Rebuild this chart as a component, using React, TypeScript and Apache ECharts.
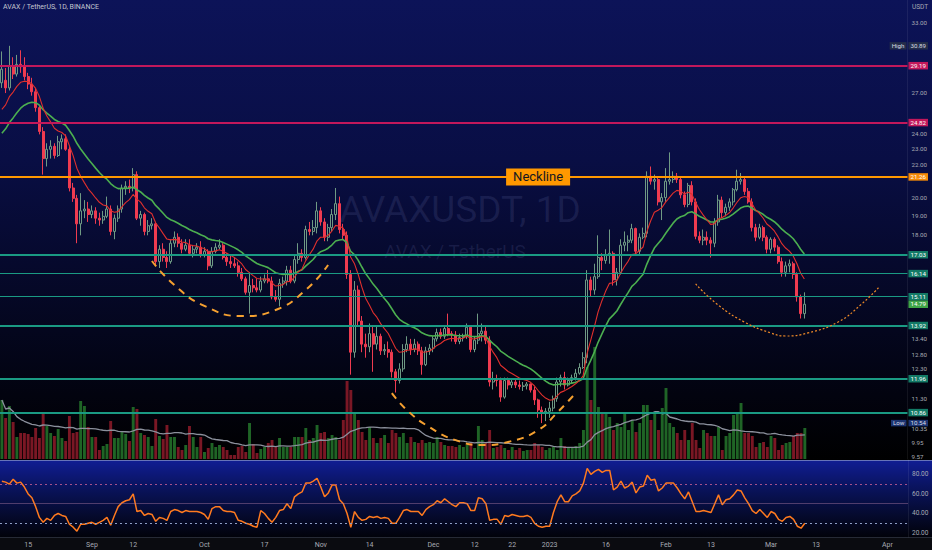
import React, { useEffect, useRef } from "react";
import * as echarts from "echarts";

// ---------------- DATA ----------------
const START_YEAR = 2022;
const START_MONTH = 7; // August (0-based)
const START_DAY = 8;
const AXIS_DAYS = 242; // Aug 8 2022 .. Apr 6 2023

// daily candles [open, high, low, close], Aug 8 2022 .. Mar 10 2023
const CANDLES: number[][] = [
  [27.8,30.4,27.4,28.9],[28.0,29.0,27.0,27.4],[27.4,30.89,27.2,29.2],[29.2,29.9,28.1,28.5],[28.5,30.1,28.3,29.3],
  [29.3,30.5,28.6,29.1],[29.1,29.9,28.0,28.3],[28.3,28.6,27.3,27.7],[27.7,28.2,26.8,27.1],[27.1,27.4,25.6,25.9],
  [25.9,26.1,24.0,24.2],[24.2,24.5,21.4,22.4],[22.4,23.4,21.9,23.0],[23.0,23.6,22.4,23.2],[23.2,23.4,22.4,22.6],
  [22.6,23.9,22.5,23.5],[23.5,24.0,23.0,23.7],[23.7,24.0,22.9,23.0],[23.0,23.2,20.4,20.6],[20.6,20.9,19.8,20.0],
  [20.0,20.2,17.6,18.6],[18.6,20.3,18.0,19.3],[19.3,19.9,18.9,19.4],[19.4,19.8,18.7,19.1],[19.1,19.6,18.9,19.3],
  [19.3,19.5,18.6,18.9],[18.9,19.2,18.5,18.8],[18.8,19.3,18.6,19.0],[19.0,20.1,18.9,19.4],[19.4,19.6,18.0,18.2],
  [18.2,19.1,17.8,18.9],[18.9,19.6,18.7,19.4],[19.4,20.8,19.2,20.6],[20.6,21.0,20.2,20.7],[20.7,21.1,20.3,20.6],
  [20.6,21.8,20.4,21.4],[21.4,21.6,18.8,18.9],[18.9,19.3,18.5,19.1],[19.1,19.2,18.0,18.2],[18.2,18.8,18.0,18.5],
  [18.5,18.9,18.3,18.6],[18.6,18.7,16.5,16.7],[16.7,17.5,16.4,17.3],[17.3,17.6,16.7,16.9],[16.9,17.2,16.4,16.7],
  [16.7,17.8,16.6,17.6],[17.6,18.2,17.4,17.9],[17.9,18.1,17.4,17.6],[17.6,17.8,17.1,17.3],[17.3,17.8,17.2,17.5],
  [17.5,17.8,17.0,17.1],[17.1,17.5,16.9,17.3],[17.3,17.6,17.1,17.4],[17.4,17.7,16.9,17.0],[17.0,17.4,16.9,17.2],
  [17.2,17.3,16.3,16.5],[16.5,17.4,16.4,17.2],[17.2,17.6,17.1,17.4],[17.4,17.8,17.3,17.5],[17.5,17.6,16.8,16.9],
  [16.9,17.1,16.5,16.7],[16.7,17.0,16.4,16.6],[16.6,16.9,16.4,16.5],[16.5,16.7,16.0,16.2],[16.2,16.4,15.8,15.9],
  [15.9,16.0,15.2,15.3],[15.3,16.2,14.4,15.6],[15.6,15.9,15.3,15.5],[15.5,15.9,15.3,15.4],[15.4,16.0,15.3,15.8],
  [15.8,16.1,15.7,15.9],[15.9,16.3,15.7,15.8],[15.8,16.0,15.0,15.1],[15.1,15.4,14.9,15.0],[15.0,15.9,14.7,15.7],
  [15.7,16.0,15.5,15.8],[15.8,16.5,15.6,16.3],[16.3,16.5,15.7,15.8],[15.8,17.0,15.7,16.8],[16.8,17.6,16.6,17.1],
  [17.1,17.3,16.7,16.9],[16.9,18.5,16.8,18.3],[18.3,18.7,18.0,18.2],[18.2,18.8,18.0,18.4],[18.4,19.8,18.1,19.3],
  [19.3,19.5,18.5,18.7],[18.7,18.9,17.7,17.9],[17.9,18.6,17.7,18.4],[18.4,19.4,18.2,19.1],[19.1,20.6,18.8,19.7],
  [19.7,20.1,18.1,18.3],[18.3,18.6,17.8,18.0],[18.0,18.2,15.9,16.1],[16.1,16.3,12.1,12.9],[12.9,15.8,12.7,15.4],
  [15.4,15.6,13.9,14.1],[14.1,14.3,12.9,13.2],[13.2,13.6,12.7,13.1],[13.1,14.0,12.9,13.6],[13.6,13.9,12.2,13.2],
  [13.2,13.9,13.0,13.5],[13.5,13.6,12.8,12.95],[12.95,13.2,12.8,13.0],[13.0,13.3,12.7,12.9],[12.9,13.0,12.0,12.2],
  [12.2,12.3,11.5,11.9],[11.9,12.5,11.8,12.3],[12.3,13.2,12.2,13.0],[13.0,13.5,12.9,13.2],[13.2,13.4,12.8,13.0],
  [13.0,13.4,12.9,13.2],[13.2,13.3,12.8,12.95],[12.95,13.1,12.1,12.45],[12.45,13.1,12.4,12.95],[12.95,13.2,12.8,13.05],
  [13.05,13.5,12.9,13.4],[13.4,13.8,13.3,13.65],[13.65,13.8,13.4,13.5],[13.5,13.9,13.4,13.8],[13.8,14.4,13.5,13.6],
  [13.6,13.7,13.3,13.55],[13.55,13.7,13.2,13.3],[13.3,13.6,13.2,13.45],[13.45,13.6,13.3,13.5],[13.5,14.0,13.4,13.85],
  [13.85,13.9,12.9,13.0],[13.0,13.5,12.9,13.35],[13.35,14.4,13.2,13.6],[13.6,14.0,13.3,13.7],[13.7,13.9,13.2,13.35],
  [13.35,13.5,11.7,11.85],[11.85,12.2,11.6,11.95],[11.95,12.1,11.7,11.9],[11.9,12.0,11.2,11.35],[11.35,12.0,11.3,11.9],
  [11.9,12.0,11.6,11.75],[11.75,11.95,11.65,11.85],[11.85,11.95,11.65,11.75],[11.75,11.9,11.6,11.7],[11.7,11.85,11.55,11.72],
  [11.72,11.85,11.6,11.78],[11.78,11.8,11.5,11.58],[11.58,11.7,11.1,11.26],[11.26,11.3,10.7,10.94],[10.94,11.05,10.54,10.85],
  [10.85,11.0,10.6,10.9],[10.9,11.2,10.7,11.0],[11.0,11.4,10.9,11.3],[11.3,12.0,11.2,11.85],[11.85,12.1,11.7,12.0],
  [12.0,12.2,11.6,11.75],[11.75,12.0,11.7,11.9],[11.9,12.1,11.8,12.0],[12.0,12.3,11.9,12.15],[12.15,12.5,12.1,12.35],
  [12.35,12.9,12.3,12.7],[12.7,16.3,12.5,15.85],[15.85,16.0,15.1,15.4],[15.4,16.6,15.2,16.0],[16.0,18.0,15.9,16.9],
  [16.9,17.1,16.3,16.75],[16.75,17.3,16.6,17.0],[17.0,18.3,16.6,17.1],[17.1,17.2,15.6,15.85],[15.85,16.4,15.6,16.2],
  [16.2,17.8,16.1,17.5],[17.5,18.2,17.2,17.65],[17.65,18.0,17.2,17.75],[17.75,18.6,17.6,18.35],[18.35,18.4,17.0,17.2],
  [17.2,18.1,17.0,17.9],[17.9,18.4,17.8,18.1],[18.1,21.6,17.9,21.3],[21.3,21.9,20.8,21.0],[21.0,21.4,20.5,21.1],
  [21.1,21.2,19.6,19.8],[19.8,20.3,18.8,20.05],[20.05,21.8,19.8,21.0],[21.0,22.8,20.8,21.1],[21.1,21.6,20.9,21.3],
  [21.3,21.5,20.9,21.1],[21.1,21.3,20.0,20.2],[20.2,20.4,19.5,19.65],[19.65,20.9,19.5,20.75],[20.75,21.0,19.6,19.8],
  [19.8,20.0,17.8,17.95],[17.95,18.2,17.6,17.75],[17.75,18.3,17.5,17.9],[17.9,18.2,17.5,17.75],[17.75,17.9,16.9,17.6],
  [17.6,18.9,17.4,18.7],[18.7,20.2,18.5,19.9],[19.9,20.1,18.9,19.2],[19.2,19.7,19.0,19.5],[19.5,20.0,19.3,19.8],
  [19.8,20.6,19.6,20.5],[20.5,21.7,20.4,21.0],[21.0,21.5,20.8,21.1],[21.1,21.3,20.2,20.4],[20.4,20.6,19.7,19.8],
  [19.8,20.0,18.2,18.4],[18.4,18.6,17.7,17.9],[17.9,18.6,17.8,18.4],[18.4,18.5,17.7,17.9],[17.9,18.0,17.1,17.3],
  [17.3,17.9,17.1,17.8],[17.8,17.9,17.2,17.4],[17.4,17.5,16.6,16.7],[16.7,16.9,16.0,16.2],[16.2,16.7,16.0,16.5],
  [16.5,16.8,16.2,16.6],[16.6,16.7,15.9,16.1],[16.1,16.2,14.9,15.1],[15.1,15.2,14.2,14.4],[14.4,15.3,14.2,14.79],
];

// daily volume (relative units)
const VOLUME: number[] = [
  59,41,53,37,22,26,26,25,22,31, 21,45,33,26,23,30,21,18,43,26,
  27,58,53,32,22,22,9,13,15,38, 21,21,28,25,18,52,50,26,24,22,
  13,40,23,20,34,22,22,12,9,14, 33,22,12,22,7,11,16,12,14,12,
  9,4,4,12,13,7,36,15,6,10, 12,16,19,12,21,12,12,12,22,22,
  22,31,19,21,34,26,27,21,24,22, 19,39,78,69,47,39,27,19,32,21,
  16,21,24,16,29,26,22,26,16,22, 17,16,19,16,17,16,22,17,14,13,
  13,12,14,12,14,16,11,33,19,16, 29,11,12,14,11,9,12,9,11,8,
  9,9,16,14,12,9,11,12,9,21, 13,12,12,13,16,29,92,59,112,52,
  46,46,42,29,36,32,46,29,39,27, 36,54,54,39,46,29,51,71,36,32,
  26,19,29,19,36,19,11,29,26,23, 23,32,9,23,26,44,46,56,26,26,
  23,12,16,17,12,23,21,9,14,16, 17,23,26,26,31,
];

// RSI(14)
const RSI: number[] = [
  73,72,70,75,71,72,67,60,56,47, 36,31,35,33,38,40,38,37,29,26,
  22,29,29,30,31,29,31,33,36,28, 38,47,51,53,54,60,42,43,38,40,
  39,32,36,35,33,42,44,43,41,43, 42,42,42,41,39,34,45,47,47,43,
  42,42,41,33,32,30,29,27,26,43, 40,35,31,36,43,44,50,45,57,60,
  62,71,71,73,76,67,57,61,69,69, 54,50,40,26,42,36,33,34,37,36,
  37,35,36,35,30,30,36,43,44,42, 42,42,38,44,47,49,53,51,55,52,
  49,47,51,51,50,43,43,56,55,50, 33,34,34,29,38,37,39,38,37,37,
  38,36,30,27,26,27,27,41,52,59, 52,52,58,60,63,71,86,80,83,85,
  82,84,84,64,67,73,66,68,72,61, 67,68,79,74,75,63,66,71,71,71,
  66,60,55,62,52,42,42,43,42,41, 50,59,49,54,55,59,64,63,56,50,
  43,40,44,40,36,42,40,34,32,36, 37,34,27,25,30,
];

// indicator settings and their values at the left edge of the chart
const EMA_FAST_LEN = 9;
const EMA_SLOW_LEN = 21;
const EMA_FAST_START = 25.0;
const EMA_SLOW_START = 23.6;
const VOL_MA_LEN = 20;

// visible ranges
const PRICE_MIN = 9.515;
const PRICE_MAX = 35.2;
const VOLUME_MAX = 129;
const RSI_MIN = 16;
const RSI_MAX = 94.6;

// drawn horizontal levels
const PINK_LEVELS = [29.19, 24.82];
const NECKLINE = 21.26;
const TEAL_LEVELS = [17.03, 16.14, 15.11, 13.92, 11.96, 10.86];
const TEAL_THIN = [16.14, 15.11];

// price axis tick labels
const PRICE_TICKS = [33, 27, 24, 23, 22, 20, 19, 18, 13.4, 12.8, 12.3, 11.3, 10.35, 9.95, 9.57];
const RSI_TICKS = [20, 40, 60, 80];
const RSI_BANDS = [70, 50, 30];

// date axis tick labels
const DATE_TICKS = [
  "2022-08-15", "2022-09-01", "2022-09-12", "2022-10-01", "2022-10-17", "2022-11-01",
  "2022-11-14", "2022-12-01", "2022-12-12", "2022-12-22", "2023-01-01", "2023-01-16",
  "2023-02-01", "2023-02-13", "2023-03-01", "2023-03-13", "2023-04-01",
];
const DATE_TICK_LABELS = ["15", "Sep", "12", "Oct", "17", "Nov", "14", "Dec", "12", "22", "2023", "16", "Feb", "13", "Mar", "13", "Apr"];

// hand-drawn cup annotations: [day index, price]
const CUP_LEFT = [[40, 16.73], [46, 15.62], [54, 14.72], [64, 14.3], [73, 14.55], [81, 15.4], [87, 16.54]];
const CUP_MIDDLE = [[104, 11.48], [108, 10.94], [114, 10.42], [121, 10.04], [128, 9.9], [135, 9.99], [143, 10.33], [148, 10.85], [153, 11.48]];
const CUP_RIGHT = [[185, 15.67], [191, 14.76], [198, 14.06], [205, 13.63], [209, 13.51], [215, 13.63], [223, 14.06], [229, 14.76], [234, 15.54]];
const NECKLINE_LABEL_DAY = 143;

// ---------------- STYLE ----------------
const FONT = "Roboto, 'Noto Sans', sans-serif";
const UP_BORDER = "#6f9a84";
const DOWN = "#ef3b50";
const VOL_UP = "rgba(36,118,44,0.85)";
const VOL_DOWN = "rgba(135,26,40,0.9)";
const PINK = "#c2185b";
const ORANGE = "#ff9800";
const TEAL = "#1a9a83";
const AXIS_TEXT = "#a7aab3";
const WATERMARK = "rgba(150,160,225,0.13)";

const DATES = Array.from({ length: AXIS_DAYS }, (_, i) =>
  new Date(Date.UTC(START_YEAR, START_MONTH, START_DAY + i)).toISOString().slice(0, 10)
);

function ema(values: number[], len: number, seed: number) {
  const k = 2 / (len + 1);
  let prev = seed;
  return values.map((v) => {
    prev = prev + k * (v - prev);
    return +prev.toFixed(4);
  });
}

function sma(values: number[], len: number) {
  return values.map((_, i) => {
    const s = values.slice(Math.max(0, i - len + 1), i + 1);
    return +(s.reduce((a, b) => a + b, 0) / s.length).toFixed(3);
  });
}

function buildOption() {
  const closes = CANDLES.map((c) => c[3]);
  const emaFast = ema(closes, EMA_FAST_LEN, EMA_FAST_START);
  const emaSlow = ema(closes, EMA_SLOW_LEN, EMA_SLOW_START);
  const volMa = sma(VOLUME, VOL_MA_LEN);
  const high = Math.max(...CANDLES.map((c) => c[1]));
  const low = Math.min(...CANDLES.map((c) => c[2]));
  const last = closes[closes.length - 1];

  const key = (v: number) => Math.round(Math.log(v) * 1e6);
  const rightLabels = new Map<number, string>();
  PRICE_TICKS.forEach((v) => rightLabels.set(key(v), `{plain|${v.toFixed(2)}}`));
  PINK_LEVELS.forEach((v) => rightLabels.set(key(v), `{pink|${v.toFixed(2)}}`));
  rightLabels.set(key(NECKLINE), `{orange|${NECKLINE.toFixed(2)}}`);
  TEAL_LEVELS.forEach((v) => rightLabels.set(key(v), `{teal|${v.toFixed(2)}}`));
  rightLabels.set(key(last), `{last|${last.toFixed(2)}}`);
  rightLabels.set(key(high), `{hl|${high.toFixed(2)}}`);
  rightLabels.set(key(low), `{lo|${low.toFixed(2)}}`);
  const rightValues = [...PRICE_TICKS, ...PINK_LEVELS, NECKLINE, ...TEAL_LEVELS, last, high, low].map(Math.log);

  const box = { color: "#ffffff", fontSize: 6.2, lineHeight: 6.4, padding: [1, 2, 0.5, 2], fontFamily: FONT };
  const rich = {
    plain: { color: AXIS_TEXT, fontSize: 6.2, lineHeight: 6.2, padding: [0, 2, 0, 3], fontFamily: FONT },
    pink: { ...box, backgroundColor: PINK },
    orange: { ...box, backgroundColor: "#f58a07" },
    teal: { ...box, backgroundColor: "#137a66" },
    last: { ...box, backgroundColor: "#3fa447" },
    hl: { ...box, backgroundColor: "#242d4a", color: "#d8dbe4" },
    lo: { ...box, backgroundColor: "#1c3472", color: "#d8dbe4", padding: [0.5, 2, 0, 2] },
  };

  const levelLines = [
    ...PINK_LEVELS.map((v) => ({ yAxis: v, lineStyle: { color: PINK, width: 2, type: "solid" } })),
    { yAxis: NECKLINE, lineStyle: { color: ORANGE, width: 2, type: "solid" } },
    ...TEAL_LEVELS.map((v) => ({
      yAxis: v,
      lineStyle: { color: TEAL, width: TEAL_THIN.includes(v) ? 1 : 2, type: "solid" },
    })),
  ];

  const xBase = {
    type: "category",
    data: DATES,
    boundaryGap: true,
    axisLine: { show: false },
    axisTick: { show: false },
    splitLine: { show: false },
  };

  const lnMin = Math.log(PRICE_MIN);
  const lnMax = Math.log(PRICE_MAX);

  return {
    animation: false,
    backgroundColor: "transparent",
    textStyle: { fontFamily: FONT },
    grid: [
      { left: 0, right: 24, top: 0, bottom: 91 },
      { left: 0, right: 24, top: 330, bottom: 91 },
      { left: 0, right: 24, top: 460, bottom: 13 },
    ],
    xAxis: [
      { ...xBase, gridIndex: 0, axisLabel: { show: false } },
      { ...xBase, gridIndex: 1, axisLabel: { show: false } },
      {
        ...xBase,
        gridIndex: 2,
        axisLabel: {
          show: true,
          interval: (_i: number, val: string) => DATE_TICKS.includes(val),
          formatter: (val: string) => DATE_TICK_LABELS[DATE_TICKS.indexOf(val)] ?? "",
          color: AXIS_TEXT,
          fontSize: 7,
          margin: 4,
        },
      },
    ],
    yAxis: [
      { type: "log", logBase: 10, gridIndex: 0, min: PRICE_MIN, max: PRICE_MAX, show: false },
      {
        type: "value",
        gridIndex: 0,
        position: "right",
        min: lnMin,
        max: lnMax,
        axisLine: { show: true, lineStyle: { color: "rgba(255,255,255,0.07)" } },
        axisTick: { show: false },
        splitLine: { show: false },
        axisLabel: {
          customValues: rightValues,
          formatter: (v: number) => rightLabels.get(Math.round(v * 1e6)) ?? "",
          rich,
          margin: 1,
        },
      },
      {
        type: "value",
        gridIndex: 0,
        position: "right",
        min: lnMin,
        max: lnMax,
        axisLine: { show: false },
        axisTick: { show: false },
        splitLine: { show: false },
        axisLabel: {
          inside: true,
          customValues: [Math.log(high), Math.log(low)],
          formatter: (v: number) =>
            Math.abs(v - Math.log(high)) < 1e-6 ? "{hl|High}" : "{lo|Low}",
          rich,
          margin: 1,
        },
      },
      { type: "value", gridIndex: 1, min: 0, max: VOLUME_MAX, show: false },
      {
        type: "value",
        gridIndex: 2,
        position: "right",
        min: RSI_MIN,
        max: RSI_MAX,
        axisLine: { show: true, lineStyle: { color: "rgba(255,255,255,0.07)" } },
        axisTick: { show: false },
        splitLine: { show: false },
        axisLabel: {
          customValues: RSI_TICKS,
          formatter: (v: number) => v.toFixed(2),
          color: AXIS_TEXT,
          fontSize: 6.5,
          margin: 4,
        },
      },
    ],
    graphic: [
      {
        type: "text",
        x: 460,
        y: 209,
        style: {
          text: "AVAXUSDT, 1D",
          fill: WATERMARK,
          fontSize: 37,
          fontFamily: FONT,
          align: "center",
          verticalAlign: "middle",
        },
      },
      {
        type: "text",
        x: 455,
        y: 251,
        style: {
          text: "AVAX / TetherUS",
          fill: WATERMARK,
          fontSize: 19,
          fontFamily: FONT,
          align: "center",
          verticalAlign: "middle",
        },
      },
      {
        type: "text",
        x: 3,
        y: 3,
        style: { text: "AVAX / TetherUS, 1D, BINANCE", fill: "#c3c6cf", fontSize: 7, fontFamily: FONT },
      },
      {
        type: "text",
        x: 912,
        y: 3,
        style: { text: "USDT", fill: AXIS_TEXT, fontSize: 6.5, fontFamily: FONT },
      },
      { type: "line", shape: { x1: 0, y1: 460.5, x2: 932, y2: 460.5 }, style: { stroke: "#6673b8", lineWidth: 1 } },
      { type: "line", shape: { x1: 0, y1: 537.5, x2: 932, y2: 537.5 }, style: { stroke: "#262a36", lineWidth: 1 } },
    ],
    series: [
      {
        name: "Volume",
        type: "bar",
        xAxisIndex: 1,
        yAxisIndex: 3,
        barWidth: "78%",
        z: 1,
        data: VOLUME.map((v, i) => ({
          value: v,
          itemStyle: { color: CANDLES[i][3] >= CANDLES[i][0] ? VOL_UP : VOL_DOWN },
        })),
      },
      {
        name: "Volume MA",
        type: "line",
        xAxisIndex: 1,
        yAxisIndex: 3,
        showSymbol: false,
        z: 2,
        lineStyle: { color: "#8b909c", width: 1.3 },
        data: volMa,
      },
      {
        name: "AVAXUSDT",
        type: "candlestick",
        xAxisIndex: 0,
        yAxisIndex: 0,
        barWidth: "70%",
        z: 3,
        itemStyle: {
          color: "rgba(0,0,0,0)",
          color0: DOWN,
          borderColor: UP_BORDER,
          borderColor0: DOWN,
          borderWidth: 1,
        },
        data: CANDLES.map(([o, h, l, c]) => [o, c, l, h]),
        markLine: {
          silent: true,
          symbol: ["none", "none"],
          label: { show: false },
          data: levelLines,
        },
        markPoint: {
          silent: true,
          data: [
            {
              coord: [DATES[NECKLINE_LABEL_DAY], NECKLINE],
              symbol: "rect",
              symbolSize: [64, 17],
              itemStyle: { color: ORANGE },
              label: {
                show: true,
                position: "inside",
                formatter: "Neckline",
                color: "#131722",
                fontSize: 13,
                fontFamily: FONT,
              },
            },
          ],
        },
      },
      {
        name: "EMA 21",
        type: "line",
        xAxisIndex: 0,
        yAxisIndex: 0,
        showSymbol: false,
        z: 4,
        lineStyle: { color: "#4caf50", width: 1.6 },
        data: emaSlow,
      },
      {
        name: "EMA 9",
        type: "line",
        xAxisIndex: 0,
        yAxisIndex: 0,
        showSymbol: false,
        z: 4,
        lineStyle: { color: "#e0302d", width: 1.1 },
        data: emaFast,
      },
      ...[CUP_LEFT, CUP_MIDDLE].map((pts) => ({
        type: "line",
        xAxisIndex: 0,
        yAxisIndex: 0,
        showSymbol: false,
        smooth: 0.5,
        z: 5,
        lineStyle: { color: "#f5a030", width: 2, type: [7, 6] },
        data: pts,
      })),
      {
        type: "line",
        xAxisIndex: 0,
        yAxisIndex: 0,
        showSymbol: false,
        smooth: 0.5,
        z: 5,
        lineStyle: { color: "#f08a28", width: 1.2, type: [2, 2] },
        data: CUP_RIGHT,
      },
      {
        name: "RSI",
        type: "line",
        xAxisIndex: 2,
        yAxisIndex: 4,
        showSymbol: false,
        z: 4,
        lineStyle: { color: "#ff7a1f", width: 1.5 },
        data: RSI,
        markLine: {
          silent: true,
          symbol: ["none", "none"],
          label: { show: false },
          data: RSI_BANDS.map((v) => ({
            yAxis: v,
            lineStyle:
              v === 50
                ? { color: "rgba(170,120,160,0.45)", width: 1, type: "solid" }
                : v === 70
                ? { color: "#a5508c", width: 1, type: [2, 3] }
                : { color: "#8c9cc4", width: 1, type: [2, 3] },
          })),
        },
      },
    ],
  };
}

const BACKGROUND =
  "linear-gradient(to bottom, #0c1358 0px, #090e44 160px, #04061e 330px, #000000 460px) 0 0 / 100% 460px no-repeat, " +
  "linear-gradient(to bottom, #101d94 0px, #0a1462 25px, #050a2e 55px, #01020a 77px) 0 460px / 100% 77px no-repeat, " +
  "#0a0b10";

export default function App() {
  const ref = useRef<HTMLDivElement>(null);
  useEffect(() => {
    if (!ref.current) return;
    const chart = echarts.init(ref.current, undefined, { renderer: "svg" });
    chart.setOption(buildOption() as any);
    return () => chart.dispose();
  }, []);
  return (
    <div
      ref={ref}
      style={{ position: "fixed", left: 0, top: 0, width: 932, height: 550, background: BACKGROUND }}
    />
  );
}
